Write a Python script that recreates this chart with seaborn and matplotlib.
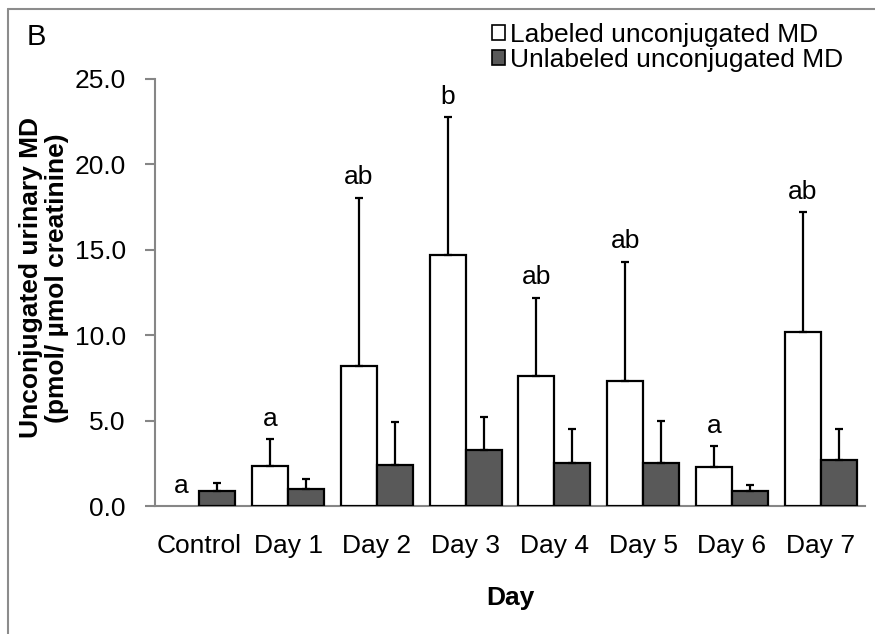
import matplotlib
matplotlib.use("Agg")
import matplotlib.pyplot as plt
from matplotlib.lines import Line2D
from matplotlib.patches import Patch
from matplotlib.transforms import offset_copy
import numpy as np
import pandas as pd
import seaborn as sns

# Unconjugated urinary MD (pmol / umol creatinine), mean and upper SD
days = ["Control", "Day 1", "Day 2", "Day 3", "Day 4", "Day 5", "Day 6", "Day 7"]
labeled_mean = [0.0, 2.35, 8.2, 14.7, 7.6, 7.3, 2.3, 10.2]
labeled_sd = [0.0, 1.55, 9.85, 8.05, 4.6, 7.0, 1.2, 7.0]
unlabeled_mean = [0.9, 1.0, 2.4, 3.25, 2.5, 2.5, 0.85, 2.7]
unlabeled_sd = [0.45, 0.6, 2.5, 1.95, 2.0, 2.5, 0.37, 1.8]
letters = ["a", "a", "ab", "b", "ab", "ab", "a", "ab"]
series = ["Labeled unconjugated MD", "Unlabeled unconjugated MD"]

df = pd.DataFrame({
    "Day": days * 2,
    "Series": [series[0]] * len(days) + [series[1]] * len(days),
    "Value": labeled_mean + unlabeled_mean,
})

sns.set_theme(style="white")
plt.rcParams["font.family"] = ["Liberation Sans", "DejaVu Sans"]
plt.rcParams["text.color"] = "black"
plt.rcParams["axes.labelcolor"] = "black"
plt.rcParams["xtick.color"] = "black"
plt.rcParams["ytick.color"] = "black"

FS = 19
GRAY = "#868686"
DARK = "#595959"

fig = plt.figure(figsize=(8.75, 6.34), dpi=100)
ax = fig.add_axes([155 / 875, 1 - 506 / 634, 710 / 875, (506 - 79) / 634])

sns.barplot(data=df, x="Day", y="Value", hue="Series", order=days,
            hue_order=series, palette=["white", DARK], errorbar=None,
            width=0.81, gap=0, edgecolor="black", linewidth=1.6,
            saturation=1, ax=ax, legend=False, zorder=2)

sds = [labeled_sd, unlabeled_sd]
means = [labeled_mean, unlabeled_mean]
for cont, m, s in zip(ax.containers, means, sds):
    xs = []
    for bar in cont:
        xs.append(bar.get_x() + bar.get_width() / 2)
        if bar.get_height() == 0:
            bar.set_visible(False)
    xs = np.array(xs)
    m = np.array(m)
    s = np.array(s)
    keep = s > 0
    ax.errorbar(xs[keep], m[keep], yerr=[np.zeros(keep.sum()), s[keep]],
                fmt="none", ecolor="black", elinewidth=1.6, capsize=3.0,
                capthick=1.6, zorder=3)

# significance letters above the labeled bars
lab_xs = [b.get_x() + b.get_width() / 2 for b in ax.containers[0]]
trans = offset_copy(ax.transData, fig=fig, x=0, y=6, units="points")
for x, m, s, t in zip(lab_xs, labeled_mean, labeled_sd, letters):
    ax.text(x, m + s, t, transform=trans, ha="center", va="bottom",
            fontsize=FS, color="black")

ax.set_xlim(-0.5, len(days) - 0.5)
ax.set_ylim(0, 25)
ax.set_yticks(np.arange(0, 25.1, 5))
ax.set_yticklabels([f"{v:.1f}" for v in np.arange(0, 25.1, 5)])

for side in ["top", "right"]:
    ax.spines[side].set_visible(False)
for side in ["left", "bottom"]:
    ax.spines[side].set_color(GRAY)
    ax.spines[side].set_linewidth(1.5)
    ax.spines[side].set_zorder(1)

ax.tick_params(axis="y", which="major", direction="out", length=7, width=1.5,
               color=GRAY, labelcolor="black", pad=14, labelsize=FS, left=True)
ax.tick_params(axis="x", which="major", length=0, pad=20, labelsize=FS,
               labelcolor="black")

ax.set_xlabel("Day", fontsize=FS, fontweight="bold", labelpad=20, color="black")
ax.set_ylabel("")
fig.text(44 / 875, 1 - 278 / 634,
         "Unconjugated urinary MD\n(pmol/ µmol creatinine)",
         fontsize=FS, fontweight="bold", rotation=90, ha="center", va="center",
         multialignment="center", linespacing=1.1, color="black")

handles = [Patch(facecolor="white", edgecolor="black", linewidth=1.2),
           Patch(facecolor=DARK, edgecolor="black", linewidth=1.2)]
fig.legend(handles, series, loc="upper left", bbox_to_anchor=(492 / 875, 1 - 23 / 634),
           frameon=False, fontsize=FS, handlelength=0.5, handleheight=0.5,
           handletextpad=0.2, labelspacing=0.05, borderpad=0, borderaxespad=0,
           labelcolor="black")

fig.text(27 / 875, 1 - 37 / 634, "B", fontsize=21, ha="left", va="center",
         color="black")

# outer frame lines (left and top)
fig.add_artist(Line2D([8 / 875, 8 / 875], [0, 1 - 9 / 634], color="#8c8c8c",
                      linewidth=1.5, transform=fig.transFigure))
fig.add_artist(Line2D([8 / 875, 1], [1 - 9 / 634, 1 - 9 / 634], color="#8c8c8c",
                      linewidth=1.5, transform=fig.transFigure))

fig.savefig("out.png", dpi=100)
